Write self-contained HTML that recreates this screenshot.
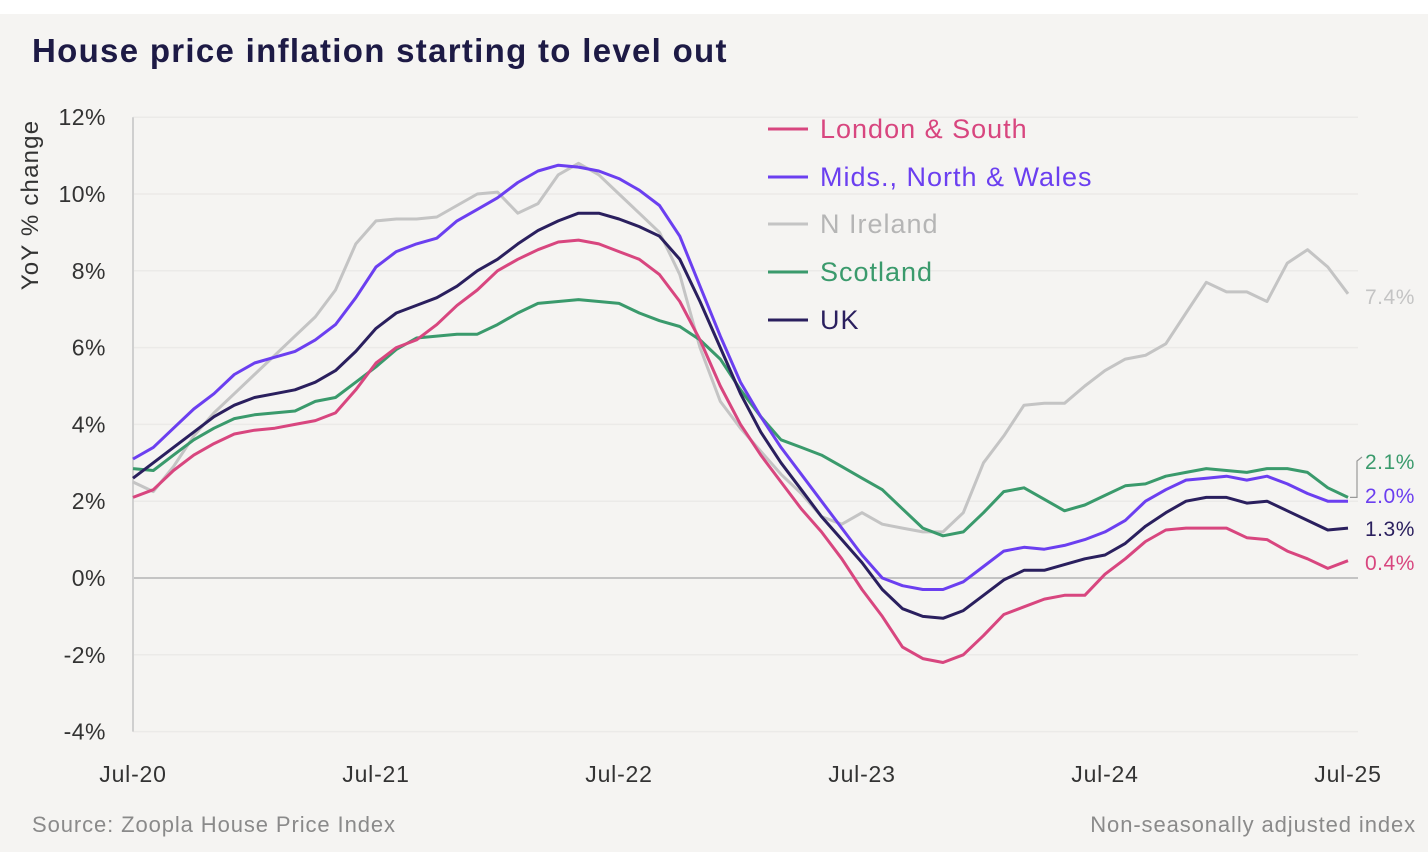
<!DOCTYPE html>
<html><head><meta charset="utf-8"><style>
html,body{margin:0;padding:0;background:#fff}
svg{display:block}
text{font-family:"Liberation Sans",sans-serif}
</style></head><body>
<svg id="chart" width="1428" height="852" viewBox="0 0 1428 852" xmlns="http://www.w3.org/2000/svg">
<rect x="0" y="0" width="1428" height="852" fill="#fff"/>
<rect x="0" y="14" width="1428" height="838" fill="#f5f4f2"/>
<text x="32" y="62" font-size="33" font-weight="bold" letter-spacing="1.3" fill="#1d1a45">House price inflation starting to level out</text>
<text transform="translate(38,205) rotate(-90)" text-anchor="middle" font-size="24" letter-spacing="1.2" fill="#333">YoY % change</text>
<g id="grid"></g><g id="yticks"></g><g id="xticks"></g><g id="lines"></g><g id="endlabels"></g>
<g id="legend"></g>
<text x="32" y="832" font-size="22" letter-spacing="0.9" fill="#8a8a8a">Source: Zoopla House Price Index</text>
<text x="1416" y="832" text-anchor="end" font-size="22" letter-spacing="0.9" fill="#8a8a8a">Non-seasonally adjusted index</text>
</svg>
<script>
const yTicks=[12,10,8,6,4,2,0,-2,-4];
const xTickLabels=["Jul-20","Jul-21","Jul-22","Jul-23","Jul-24","Jul-25"];
const xTickMonths=[0,12,24,36,48,60];
const seriesNames=["London & South","Mids., North & Wales","N Ireland","Scotland","UK"];
const london=[2.1,2.3,2.8,3.2,3.5,3.75,3.85,3.9,4.0,4.1,4.3,4.9,5.6,6.0,6.2,6.6,7.1,7.5,8.0,8.3,8.55,8.75,8.8,8.7,8.5,8.3,7.9,7.2,6.2,5.0,4.0,3.2,2.5,1.8,1.2,0.5,-0.3,-1.0,-1.8,-2.1,-2.2,-2.0,-1.5,-0.95,-0.75,-0.55,-0.45,-0.45,0.1,0.5,0.95,1.25,1.3,1.3,1.3,1.05,1.0,0.7,0.5,0.25,0.45];
const mids=[3.1,3.4,3.9,4.4,4.8,5.3,5.6,5.75,5.9,6.2,6.6,7.3,8.1,8.5,8.7,8.85,9.3,9.6,9.9,10.3,10.6,10.75,10.7,10.6,10.4,10.1,9.7,8.9,7.6,6.3,5.1,4.2,3.4,2.7,2.0,1.3,0.6,0.0,-0.2,-0.3,-0.3,-0.1,0.3,0.7,0.8,0.75,0.85,1.0,1.2,1.5,2.0,2.3,2.55,2.6,2.65,2.55,2.65,2.45,2.2,2.0,2.0];
const nireland=[2.5,2.25,2.9,3.7,4.3,4.8,5.3,5.8,6.3,6.8,7.5,8.7,9.3,9.35,9.35,9.4,9.7,10.0,10.05,9.5,9.75,10.5,10.8,10.5,10.0,9.5,9.0,7.9,6.0,4.6,3.9,3.3,2.7,2.2,1.6,1.4,1.7,1.4,1.3,1.2,1.2,1.7,3.0,3.7,4.5,4.55,4.55,5.0,5.4,5.7,5.8,6.1,6.9,7.7,7.45,7.45,7.2,8.2,8.55,8.1,7.4];
const scotland=[2.85,2.8,3.2,3.6,3.9,4.15,4.25,4.3,4.35,4.6,4.7,5.1,5.5,5.95,6.25,6.3,6.35,6.35,6.6,6.9,7.15,7.2,7.25,7.2,7.15,6.9,6.7,6.55,6.2,5.7,4.9,4.2,3.6,3.4,3.2,2.9,2.6,2.3,1.8,1.3,1.1,1.2,1.7,2.25,2.35,2.05,1.75,1.9,2.15,2.4,2.45,2.65,2.75,2.85,2.8,2.75,2.85,2.85,2.75,2.35,2.1];
const uk=[2.6,3.0,3.4,3.8,4.2,4.5,4.7,4.8,4.9,5.1,5.4,5.9,6.5,6.9,7.1,7.3,7.6,8.0,8.3,8.7,9.05,9.3,9.5,9.5,9.35,9.15,8.9,8.3,7.2,6.0,4.8,3.8,3.0,2.3,1.6,1.0,0.4,-0.3,-0.8,-1.0,-1.05,-0.85,-0.45,-0.05,0.2,0.2,0.35,0.5,0.6,0.9,1.35,1.7,2.0,2.1,2.1,1.95,2.0,1.75,1.5,1.25,1.3];
const endLabels=["0.4%","2.0%","7.4%","2.1%","1.3%"];

const NS="http://www.w3.org/2000/svg";
const X0=133,X1=1348,Y0=578,PX=38.4;
const xs=i=>X0+(X1-X0)*i/60;
const ys=v=>Y0-v*PX;
function mk(tag,attrs,parent,txt){const e=document.createElementNS(NS,tag);for(const k in attrs)e.setAttribute(k,attrs[k]);if(txt!==undefined)e.textContent=txt;parent.appendChild(e);return e;}
const grid=document.getElementById('grid'),yt=document.getElementById('yticks'),xt=document.getElementById('xticks'),lines=document.getElementById('lines'),el=document.getElementById('endlabels'),lg=document.getElementById('legend');
yTicks.forEach(v=>{
  const l=mk('line',{x1:X0,x2:1358,y1:ys(v),y2:ys(v),stroke:v===0?'#c4c4c4':'#ebeae8','stroke-width':v===0?2:1.5},grid);
  
  
  const t=mk('text',{x:106,y:ys(v)+8,'text-anchor':'end','font-size':23,'letter-spacing':0.5,fill:'#333'},yt,v+'%');
  
  
});
const ax=mk('line',{x1:X0,x2:X0,y1:ys(12),y2:ys(-4),stroke:'#cfcfcf','stroke-width':2},grid);


xTickLabels.forEach((s,k)=>{
  const t=mk('text',{x:xs(xTickMonths[k]),y:782,'text-anchor':'middle','font-size':23,'letter-spacing':0.8,fill:'#333'},xt,s);
  
  
});
const colors=["#d8467f","#6b3ff0","#c4c4c4","#3a9a6c","#2a1f5e"];
const data=[london,mids,nireland,scotland,uk];
const order=[2,3,0,1,4];
order.forEach(k=>{
  const d=data[k].map((v,i)=>(i?'L':'M')+xs(i).toFixed(1)+','+ys(v).toFixed(1)).join(' ');
  const p=mk('path',{d:d,fill:'none',stroke:colors[k],'stroke-width':3,'stroke-linejoin':'round'},lines);
  
  
});
const labelY=[562,495,296,461,528];
data.forEach((s,k)=>{
  const t=mk('text',{x:1365,y:labelY[k]+8,'font-size':21,'letter-spacing':0.5,fill:colors[k]},el,endLabels[k]);
  
  
});
const br=mk('path',{d:'M1350,'+ys(scotland[60]).toFixed(1)+' L1357,'+ys(scotland[60]).toFixed(1)+' L1357,461 L1362,457',fill:'none',stroke:'#999','stroke-width':1.2},el);


const legY=[129,177,224,272,320];
seriesNames.forEach((n,k)=>{
  const l=mk('line',{x1:768,x2:808,y1:legY[k],y2:legY[k],stroke:colors[k],'stroke-width':3},lg);
  
  
  const t=mk('text',{x:820,y:legY[k]+9,'font-size':27,'letter-spacing':1,fill:k===2?'#b5b5b5':colors[k]},lg,n);
  
  
});
</script>
</body></html>
